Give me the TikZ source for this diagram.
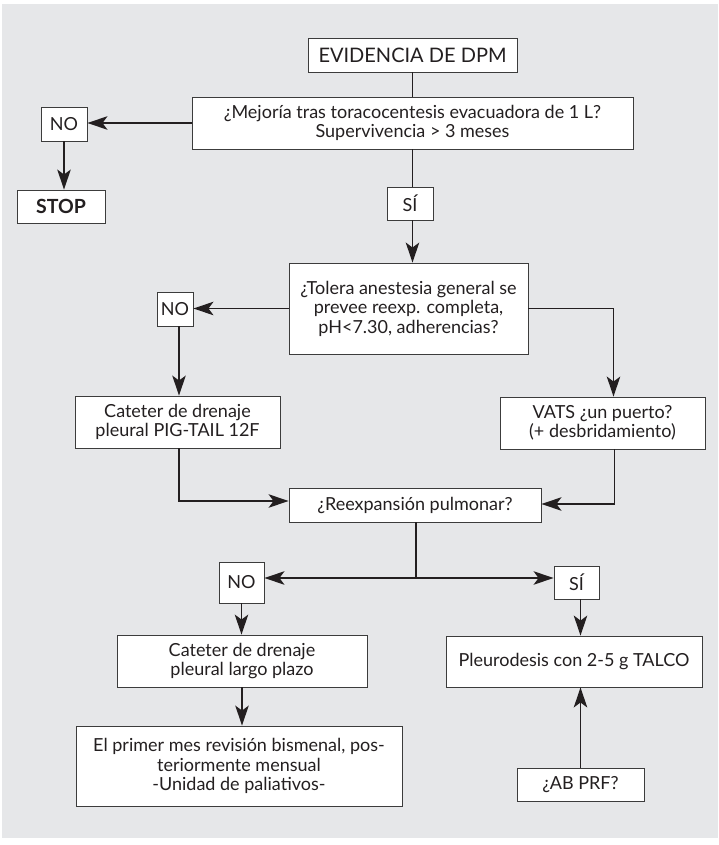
\documentclass[tikz,border=0pt]{standalone}
\usepackage{fontspec}
\setmainfont{Lato}
\usetikzlibrary{arrows.meta,calc}
\definecolor{panel}{RGB}{230,231,233}
\definecolor{ink}{RGB}{35,31,32}
\definecolor{edge}{RGB}{60,60,60}
\begin{document}
\begin{tikzpicture}[x=1pt,y=-1pt,
  box/.style={draw=edge,line width=0.9pt,fill=white,inner sep=0pt,align=center,
    text=ink,font=\fontsize{18}{19.5}\selectfont},
  arr/.style={draw=ink,line width=1.3pt,-{Stealth[length=20pt,width=13.5pt,inset=5pt]}},
  ln/.style={draw=ink,line width=1.3pt}]
\useasboundingbox (0,0) rectangle (719,845);
\fill[white] (0,0) rectangle (719,845);
\fill[panel] (2,4) rectangle (718,838);
% boxes
\node[box,minimum width=209pt,minimum height=34pt,font=\fontsize{20}{22}\selectfont] (ev) at (412.5,55) {EVIDENCIA DE DPM};
\node[box,minimum width=441pt,minimum height=52pt] (q1) at (412.5,123) {¿Mejoría tras toracocentesis evacuadora de 1 L?\\Supervivencia > 3 meses};
\node[box,minimum width=46pt,minimum height=34pt] (no1) at (64,124) {NO};
\node[box,minimum width=88pt,minimum height=33pt,font=\fontsize{19.5}{21}\selectfont\bfseries] (stop) at (61,206.5) {STOP};
\node[box,minimum width=46pt,minimum height=33pt] (si1) at (410,203.5) {SÍ};
\node[box,minimum width=239pt,minimum height=91pt] (q2) at (408.5,308.5) {¿Tolera anestesia general se\\prevee reexp. completa,\\pH<7.30, adherencias?};
\node[box,minimum width=36pt,minimum height=34pt] (no2) at (175,309) {NO};
\node[box,minimum width=205pt,minimum height=52pt] (pig) at (177.5,422) {Cateter de drenaje\\pleural PIG-TAIL 12F};
\node[box,minimum width=205pt,minimum height=52pt] (vats) at (602.5,423) {VATS ¿un puerto?\\(+ desbridamiento)};
\node[box,minimum width=252pt,minimum height=34pt] (reexp) at (415,505) {¿Reexpansión pulmonar?};
\node[box,minimum width=45pt,minimum height=41pt] (no3) at (241.5,582.5) {NO};
\node[box,minimum width=45pt,minimum height=33pt] (si2) at (576.5,582.5) {SÍ};
\node[box,minimum width=250pt,minimum height=52pt] (largo) at (242,661) {Cateter de drenaje\\pleural largo plazo};
\node[box,minimum width=326pt,minimum height=80pt] (primer) at (239,766) {El primer mes revisión bismenal, pos-\\teriormente mensual\\-Unidad de paliativos-};
\node[box,minimum width=256pt,minimum height=51pt] (pleuro) at (574,661.5) {Pleurodesis con 2-5 g TALCO};
\node[box,minimum width=127pt,minimum height=33pt] (ab) at (580.5,784.5) {¿AB PRF?};
\coordinate (j) at (416,578);
% connectors
\draw[ln] (ev.south) -- (q1.north);
\draw[arr] (q1.west) -- (q1.west -| no1.east);
\draw[arr] (no1.south) -- (no1.south |- stop.north);
\draw[ln] (q1.south) -- (si1.north -| q1.south);
\draw[arr] (si1.south -| q1.south) -- (q1.south |- q2.north);
\draw[arr] (q2.west) -- (q2.west -| no2.east);
\draw[arr] ([xshift=4pt]no2.south) -- ([xshift=4pt]no2.south |- pig.north);
\draw[arr] (q2.east) -| ([xshift=11pt]vats.north);
\draw[arr] ([xshift=1.5pt]pig.south) |- ([yshift=4pt]reexp.west);
\draw[arr] ([xshift=12pt]vats.south) |- ([yshift=1pt]reexp.east);
\draw[ln] (reexp.south -| j) -- (j);
\draw[arr] (j) -- (j -| no3.east);
\draw[arr] (j) -- (j -| si2.west);
\draw[arr] (no3.south) -- (no3.south |- largo.north);
\draw[arr] (largo.south) -- (largo.south |- primer.north);
\draw[arr] ([xshift=4pt]si2.south) -- ([xshift=4pt]si2.south |- pleuro.north);
\draw[arr] (ab.north) -- (ab.north |- pleuro.south);
\end{tikzpicture}
\end{document}
